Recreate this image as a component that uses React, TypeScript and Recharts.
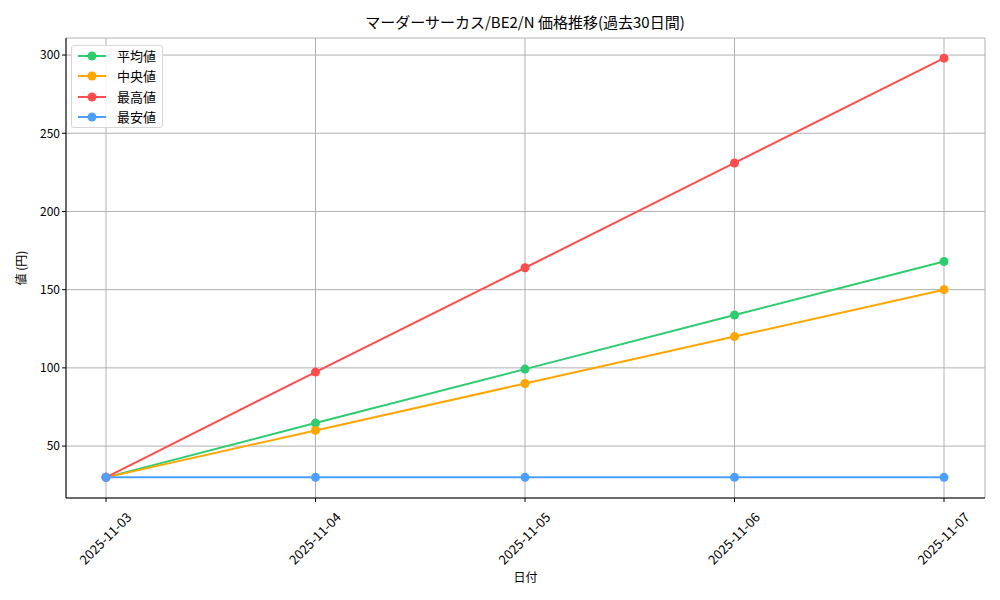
import React from "react";
import { LineChart, Line, XAxis, YAxis, CartesianGrid, Label } from "recharts";

// 日付ごとの価格推移
const dates = ["2025-11-03", "2025-11-04", "2025-11-05", "2025-11-06", "2025-11-07"];
const avgPrices = [30, 64.7, 99.2, 133.8, 168];
const medianPrices = [30, 60, 90, 120, 150];
const maxPrices = [30, 97.3, 164, 231, 298];
const minPrices = [30, 30, 30, 30, 30];
const yTicks = [50, 100, 150, 200, 250, 300];

const series = [
  { key: "avg", name: "平均値", color: "#2ecc71" },
  { key: "median", name: "中央値", color: "#ffa500" },
  { key: "max", name: "最高値", color: "#ff4d4d" },
  { key: "min", name: "最安値", color: "#4d9fff" },
];

const data = dates.map((d, i) => ({
  date: d,
  avg: avgPrices[i],
  median: medianPrices[i],
  max: maxPrices[i],
  min: minPrices[i],
}));

const FONT = "'Noto Sans CJK JP', 'DejaVu Sans', sans-serif";

// matplotlib の rotation=45 (中央揃え) に合わせる
const RotatedTick = ({ x, y, payload }: any) => (
  <g transform={`translate(${x},${y + 35})`}>
    <text
      x={0}
      y={0}
      dy={4}
      textAnchor="middle"
      transform="rotate(-45)"
      fontSize={13}
      fill="#000"
      fontFamily={FONT}
    >
      {payload.value}
    </text>
  </g>
);

const LegendBox = () => (
  <div
    style={{
      position: "absolute",
      left: 71,
      top: 45,
      width: 92,
      height: 83,
      border: "1px solid #d6d6d6",
      borderRadius: 3,
      background: "rgba(255,255,255,0.85)",
      fontFamily: FONT,
      fontSize: 13,
      boxSizing: "border-box",
      paddingTop: 0,
    }}
  >
    {series.map((s) => (
      <div key={s.key} style={{ display: "flex", alignItems: "center", height: 20.3 }}>
        <svg width={40} height={14} style={{ marginLeft: 5 }}>
          <line x1={1} y1={7} x2={29} y2={7} stroke={s.color} strokeWidth={2} />
          <circle cx={15} cy={7} r={4.5} fill={s.color} />
        </svg>
        <span style={{ color: "#000", lineHeight: "14px" }}>{s.name}</span>
      </div>
    ))}
  </div>
);

export default function App() {
  return (
    <div style={{ position: "absolute", left: 0, top: 0, width: 1000, height: 600, background: "#fff" }}>
      <div
        style={{
          position: "absolute",
          top: 11,
          left: 66,
          width: 918,
          textAlign: "center",
          fontFamily: FONT,
          fontSize: 15,
          color: "#000",
        }}
      >
        マーダーサーカス/BE2/N 価格推移(過去30日間)
      </div>
      <LineChart
        width={1000}
        height={600}
        data={data}
        margin={{ top: 38, right: 15, bottom: 22, left: 16 }}
      >
        <CartesianGrid stroke="#b0b0b0" strokeWidth={1} />
        <XAxis
          dataKey="date"
          padding={{ left: 40, right: 41 }}
          height={80}
          tick={<RotatedTick />}
          tickLine={{ stroke: "#000" }}
          tickSize={4}
          axisLine={{ stroke: "#000" }}
          interval={0}
        >
          <Label value="日付" position="insideBottom" offset={-4} style={{ fontFamily: FONT, fontSize: 12, fill: "#000" }} />
        </XAxis>
        <XAxis xAxisId="top" orientation="top" dataKey="date" height={0} tick={false} tickLine={false} axisLine={{ stroke: "#000" }} />
        <YAxis
          domain={[16.8, 310.9]}
          ticks={yTicks}
          width={50}
          tickSize={4}
          tickLine={{ stroke: "#000" }}
          axisLine={{ stroke: "#000" }}
          tick={{ fontSize: 12, fill: "#000", fontFamily: FONT }}
        >
          <Label value="値 (円)" angle={-90} position="insideLeft" offset={6} style={{ fontFamily: FONT, fontSize: 12, fill: "#000", textAnchor: "middle" }} />
        </YAxis>
        <YAxis yAxisId="right" orientation="right" width={0} tick={false} tickLine={false} axisLine={{ stroke: "#000" }} />
        {series.map((s) => (
          <Line
            key={s.key}
            dataKey={s.key}
            name={s.name}
            stroke={s.color}
            strokeWidth={2}
            dot={{ r: 4.5, fill: s.color, stroke: s.color, strokeWidth: 0 }}
            activeDot={false}
            isAnimationActive={false}
          />
        ))}
      </LineChart>
      <LegendBox />
    </div>
  );
}
